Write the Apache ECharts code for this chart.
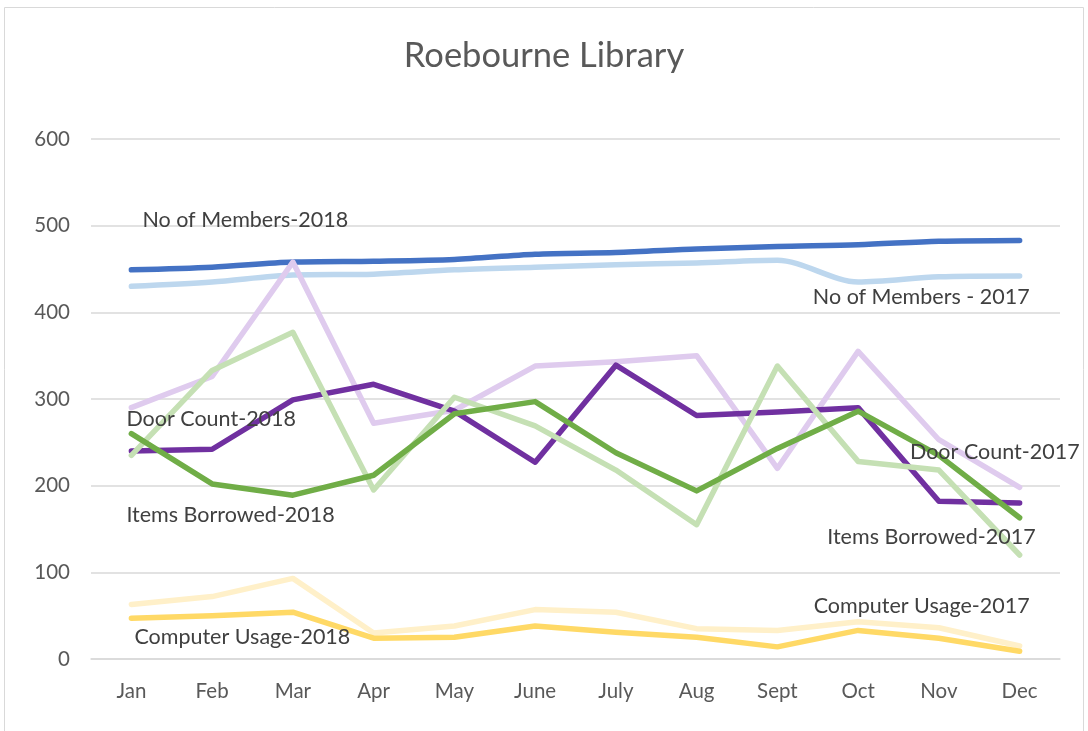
<!DOCTYPE html>
<html>
<head>
<meta charset="utf-8">
<script src="https://cdn.jsdelivr.net/npm/echarts@6/dist/echarts.min.js"></script>
<style>
  html, body { margin: 0; padding: 0; background: #fff; }
  #chart { width: 1088px; height: 731px; }
</style>
</head>
<body>
<div id="chart"></div>
<script>
// 数据
const months = ['Jan', 'Feb', 'Mar', 'Apr', 'May', 'June', 'July', 'Aug', 'Sept', 'Oct', 'Nov', 'Dec'];
const members2017 = [430, 435, 443, 444, 449, 452, 455, 457, 460, 435, 441, 442];
const members2018 = [449, 452, 458, 459, 461, 467, 469, 473, 476, 478, 482, 483];
const door2017 = [290, 326, 458, 272, 287, 338, 343, 350, 220, 355, 253, 198];
const door2018 = [240, 242, 299, 317, 286, 227, 339, 281, 285, 290, 182, 180];
const items2017 = [235, 333, 377, 195, 302, 269, 218, 155, 338, 228, 218, 120];
const items2018 = [260, 202, 189, 212, 283, 297, 238, 194, 243, 286, 235, 163];
const computer2017 = [63, 72, 93, 30, 38, 57, 54, 35, 33, 43, 36, 15];
const computer2018 = [47, 50, 54, 24, 25, 38, 31, 25, 14, 33, 24, 9];
const yTicks = [0, 100, 200, 300, 400, 500, 600];

const font = 'Lato';
const textColor = '#404040';

// 系列标签（挂在某个数据点上）
function tag(name, values, idx, pos, offset) {
  return {
    symbol: 'circle',
    symbolSize: 0,
    silent: true,
    label: {
      show: true,
      formatter: name,
      position: pos,
      distance: 0,
      offset: offset,
      color: textColor,
      fontFamily: font,
      fontSize: 21.5
    },
    data: [{ coord: [months[idx], values[idx]] }]
  };
}

function line(name, values, color, smooth, mark) {
  return {
    name: name,
    type: 'line',
    data: values,
    smooth: smooth,
    showSymbol: false,
    lineStyle: { color: color, width: 5.5, cap: 'round', join: 'round' },
    itemStyle: { color: color },
    emphasis: { disabled: true },
    markPoint: mark
  };
}

const chart = echarts.init(document.getElementById('chart'));
chart.setOption({
  animation: false,
  title: {
    text: 'Roebourne Library',
    left: 'center',
    top: 33,
    textStyle: { color: '#595959', fontFamily: font, fontSize: 34.5, fontWeight: 'normal' }
  },
  graphic: [{
    type: 'rect',
    shape: { x: 4.5, y: 7.5, width: 1079, height: 740 },
    style: { fill: 'none', stroke: '#d9d9d9', lineWidth: 1 },
    silent: true
  }],
  grid: { left: 91, right: 28, top: 139, bottom: 72 },
  xAxis: {
    type: 'category',
    data: months,
    boundaryGap: true,
    axisLine: { show: true, lineStyle: { color: '#d9d9d9', width: 1.5 } },
    axisTick: { show: false },
    axisLabel: { color: '#595959', fontFamily: font, fontSize: 20.5, margin: 22 }
  },
  yAxis: {
    type: 'value',
    min: yTicks[0],
    max: yTicks[yTicks.length - 1],
    interval: 100,
    axisLine: { show: false },
    axisTick: { show: false },
    axisLabel: { color: '#595959', fontFamily: font, fontSize: 20.5, margin: 21 },
    splitLine: { lineStyle: { color: '#d9d9d9', width: 1.5 } }
  },
  series: [
    line('No of Members - 2017', members2017, '#bdd7ee', 0.3, tag('No of Members - 2017', members2017, 11, 'left', [10, 21])),
    line('No of Members-2018', members2018, '#4472c4', 0.3, tag('No of Members-2018', members2018, 0, 'right', [11, -50])),
    line('Door Count-2017', door2017, '#dfcbee', false, tag('Door Count-2017', door2017, 11, 'left', [60, -35])),
    line('Door Count-2018', door2018, '#7030a0', false, tag('Door Count-2018', door2018, 0, 'right', [-5, -32])),
    line('Items Borrowed-2017', items2017, '#c5e0b4', false, tag('Items Borrowed-2017', items2017, 11, 'left', [16, -18])),
    line('Items Borrowed-2018', items2018, '#70ad47', false, tag('Items Borrowed-2018', items2018, 0, 'right', [-5, 81])),
    line('Computer Usage-2017', computer2017, '#fff0c9', false, tag('Computer Usage-2017', computer2017, 11, 'left', [10, -40])),
    line('Computer Usage-2018', computer2018, '#ffd966', false, tag('Computer Usage-2018', computer2018, 0, 'right', [3, 19]))
  ]
});
</script>
</body>
</html>
